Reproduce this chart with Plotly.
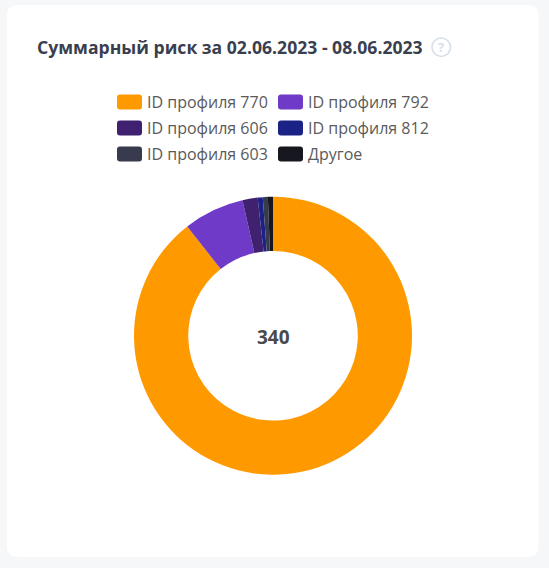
import plotly.graph_objects as go

W, H = 549, 568
FONT = "Open Sans"

title = "Суммарный риск за 02.06.2023 - 08.06.2023"
total_label = "340"
categories = ["ID профиля 770", "ID профиля 792", "ID профиля 606",
              "ID профиля 812", "ID профиля 603", "Другое"]
values = [304, 24, 6, 2, 2, 2]
colors = ["#FF9900", "#6E3AC7", "#3F2170", "#1B2286", "#383A4E", "#16171F"]


def px(x):
    return x / W


def py(y):
    return 1 - y / H


def rounded_rect(x0, y0, x1, y1, r):
    return (f"M{px(x0 + r)},{py(y0)} L{px(x1 - r)},{py(y0)} "
            f"Q{px(x1)},{py(y0)} {px(x1)},{py(y0 + r)} "
            f"L{px(x1)},{py(y1 - r)} Q{px(x1)},{py(y1)} {px(x1 - r)},{py(y1)} "
            f"L{px(x0 + r)},{py(y1)} Q{px(x0)},{py(y1)} {px(x0)},{py(y1 - r)} "
            f"L{px(x0)},{py(y0 + r)} Q{px(x0)},{py(y0)} {px(x0 + r)},{py(y0)} Z")


shapes = [dict(type="path", xref="paper", yref="paper", layer="below",
               path=rounded_rect(7, 5, 538.5, 557, 11),
               fillcolor="#FFFFFF", line=dict(width=0)),
          dict(type="circle", xref="paper", yref="paper",
               x0=px(432), x1=px(450.5), y0=py(56.5), y1=py(38),
               fillcolor="rgba(0,0,0,0)", line=dict(color="#D6DEE9", width=1.6))]

annotations = [
    dict(text=f"<b>{title}</b>", x=px(36.5), y=py(47), xanchor="left", yanchor="middle",
         font=dict(family=FONT, size=17.6, color="#3A3F50")),
    dict(text="<b>?</b>", x=px(441.2), y=py(47), xanchor="center", yanchor="middle",
         font=dict(family=FONT, size=13, color="#D6DEE9")),
    dict(text=f"<b>{total_label}</b>", x=px(273), y=py(336.5), xanchor="center", yanchor="middle",
         font=dict(family=FONT, size=19, color="#4A4A4A")),
]

col_x = [117, 278]
row_y = [102, 128, 154]
for i, (name, color) in enumerate(zip(categories, colors)):
    x = col_x[i % 2]
    y = row_y[i // 2]
    shapes.append(dict(type="path", xref="paper", yref="paper",
                       path=rounded_rect(x, y - 7.5, x + 25, y + 7.5, 3),
                       fillcolor=color, line=dict(width=0)))
    annotations.append(dict(text=name, x=px(x + 30), y=py(y), xanchor="left", yanchor="middle",
                            font=dict(family=FONT, size=16, color="#5A5A5A")))

for a in annotations:
    a.update(xref="paper", yref="paper", showarrow=False, borderpad=0, borderwidth=0)

fig = go.Figure(go.Pie(
    labels=categories, values=values, sort=False, direction="clockwise", rotation=0,
    hole=0.61, marker=dict(colors=colors, line=dict(width=0)),
    textinfo="none", hoverinfo="label+value",
    domain=dict(x=[px(134), px(412)], y=[py(475), py(196.5)]),
))
fig.update_layout(
    width=W, height=H, margin=dict(l=0, r=0, t=0, b=0), showlegend=False,
    paper_bgcolor="#F6F7F9", shapes=shapes, annotations=annotations,
    font=dict(family=FONT),
)
fig.write_html("out.html", config=dict(displayModeBar=False),
               post_script="document.body.style.margin='0';document.body.style.overflow='hidden';")
